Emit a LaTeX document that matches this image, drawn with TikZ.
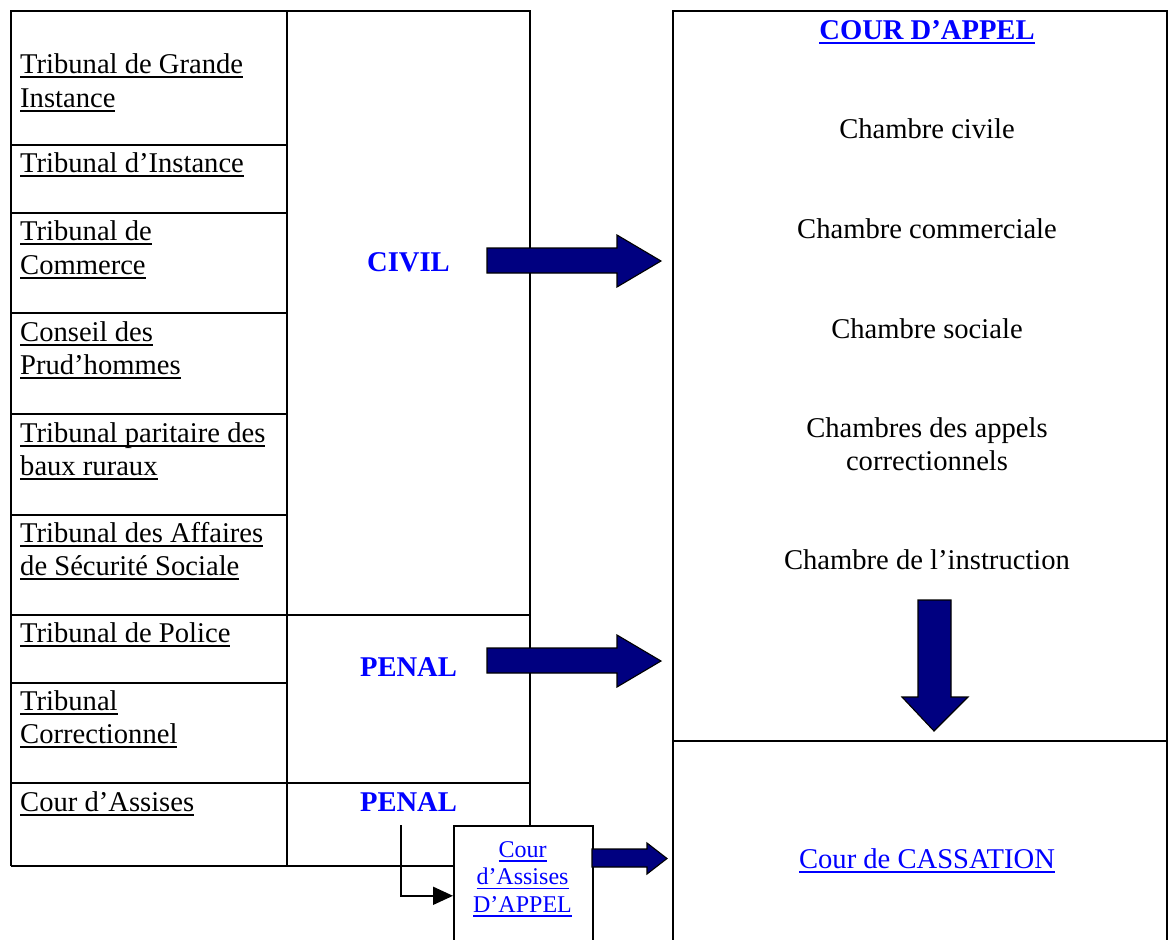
\documentclass[tikz,border=0pt]{standalone}
\usepackage{fontspec}
\setmainfont{Liberation Serif}
\usetikzlibrary{arrows.meta}
\newcommand\myul[1]{\setbox0\hbox{#1}\rlap{\vrule height -3.2pt depth 4.7pt width \wd0}\box0}
\definecolor{navyfill}{HTML}{000080}
\definecolor{linkblue}{HTML}{0000FF}
\tikzset{
  gridline/.style={line width=1.2pt, draw=black},
  lefttxt/.style={font=\fontsize{28.6}{33}\selectfont, inner sep=0pt, anchor=base west},
  ctxt/.style={font=\fontsize{28.6}{33}\selectfont, inner sep=0pt, anchor=base},
  kindtxt/.style={font=\fontsize{28.6}{33}\selectfont\bfseries, text=linkblue, inner sep=0pt, anchor=base},
  smalltxt/.style={font=\fontsize{24}{27}\selectfont, text=linkblue, inner sep=0pt, anchor=base},
  blockarrow/.style={fill=navyfill, draw=black, line width=1.1pt, line join=miter},
  elbow/.style={line width=1.8pt, -{Triangle[length=20pt,width=18pt]}}
}
\begin{document}
\begin{tikzpicture}[x=1pt,y=-1pt]
\useasboundingbox (0,0) rectangle (1168,940);
\clip (0,0) rectangle (1168,940);
\fill[white] (0,0) rectangle (1168,940);

% left table
\draw[gridline] (11,866) -- (11,11) -- (530,11) -- (530,825);
\draw[gridline] (287,11) -- (287,866);
\draw[gridline] (11,866) -- (453,866);
\foreach \yy in {145,213,313,414,515,683} \draw[gridline] (11,\yy) -- (287,\yy);
\foreach \yy in {615,783} \draw[gridline] (11,\yy) -- (530,\yy);

% left texts
\node[lefttxt] (tgi1) at (20,73) {\myul{Tribunal de Grande}};
\node[lefttxt] (tgi2) at (20,107) {\myul{Instance}};
\node[lefttxt] (ti) at (20,172) {\myul{Tribunal d’Instance}};
\node[lefttxt] (tc1) at (20,240) {\myul{Tribunal de}};
\node[lefttxt] (tc2) at (20,274) {\myul{Commerce}};
\node[lefttxt] (cph1) at (20,341) {\myul{Conseil des}};
\node[lefttxt] (cph2) at (20,374) {\myul{Prud’hommes}};
\node[lefttxt] (tpbr1) at (20,442) {\myul{Tribunal paritaire des}};
\node[lefttxt] (tpbr2) at (20,475) {\myul{baux ruraux}};
\node[lefttxt] (tass1) at (20,542) {\myul{Tribunal des Affaires}};
\node[lefttxt] (tass2) at (20,575) {\myul{de Sécurité Sociale}};
\node[lefttxt] (tp) at (20,642) {\myul{Tribunal de Police}};
\node[lefttxt] (tcor1) at (20,710) {\myul{Tribunal}};
\node[lefttxt] (tcor2) at (20,743) {\myul{Correctionnel}};
\node[lefttxt] (ca) at (20,811) {\myul{Cour d’Assises}};

% category texts
\node[kindtxt] (civil) at (408.5,271) {CIVIL};
\node[kindtxt] (penal1) at (408.5,676) {PENAL};
\node[kindtxt] (penal2) at (408.5,811) {PENAL};

% right box
\draw[gridline] (673,945) -- (673,11) -- (1167,11) -- (1167,945);
\draw[gridline] (673,741) -- (1168,741);
\node[kindtxt] (courappel) at (927,39) {\myul{COUR D’APPEL}};
\node[ctxt] (chciv) at (927,138.5) {Chambre civile};
\node[ctxt] (chcom) at (927,238) {Chambre commerciale};
\node[ctxt] (chsoc) at (927,338) {Chambre sociale};
\node[ctxt] (chapp1) at (927,437) {Chambres des appels};
\node[ctxt] (chapp2) at (927,470) {correctionnels};
\node[ctxt] (chinst) at (927,569.5) {Chambre de l’instruction};
\node[ctxt, text=linkblue] (cass) at (927,868) {\myul{Cour de CASSATION}};

% block arrows
\draw[blockarrow] (487,248) -- (617,248) -- (617,235) -- (661,261) -- (617,287) -- (617,273) -- (487,273) -- cycle;
\draw[blockarrow] (487,648) -- (617,648) -- (617,635) -- (661,661) -- (617,687) -- (617,673) -- (487,673) -- cycle;
\draw[blockarrow] (918,600) -- (951,600) -- (951,697) -- (968,697) -- (934,731) -- (902,697) -- (918,697) -- cycle;

% cour d'assises d'appel box
\node[draw=black, line width=1.6pt, fill=white, minimum width=139pt, minimum height=140pt, inner sep=0pt, anchor=north west] (assisesappel) at (453,825) {};
\node[smalltxt] (aa1) at (522.5,857) {\myul{Cour}};
\node[smalltxt] (aa2) at (522.5,884.5) {\myul{d’Assises}};
\node[smalltxt] (aa3) at (522.5,912) {\myul{D’APPEL}};
\draw[blockarrow] (592,849) -- (647,849) -- (647,843) -- (667,858.5) -- (647,874) -- (647,867) -- (592,867) -- cycle;

% elbow connector
\coordinate (penalstart) at (401,825);
\draw[elbow] (penalstart) |- (assisesappel.west);
\end{tikzpicture}
\end{document}
